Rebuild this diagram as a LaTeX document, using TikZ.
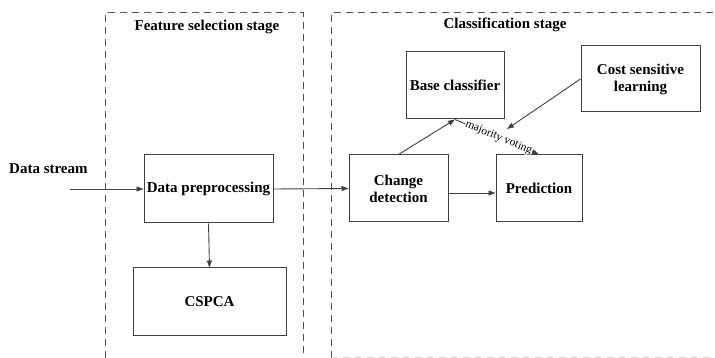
\documentclass[tikz,border=0pt]{standalone}
\usepackage{fontspec}
\setmainfont{Liberation Serif}
\usetikzlibrary{arrows.meta}
\definecolor{linec}{HTML}{404040}
\definecolor{dashc}{HTML}{505050}
\tikzset{
  box/.style={draw=linec, line width=1pt, fill=white, inner sep=0pt, align=center, font=\fontsize{15}{17}\selectfont\bfseries},
  conn/.style={draw=linec, line width=0.9pt, -{Triangle[length=7pt,width=5pt]}},
  stage/.style={draw=dashc, line width=1pt, dash pattern=on 7pt off 5pt},
  lbl/.style={font=\fontsize{15}{17}\selectfont\bfseries, inner sep=0pt}
}
\begin{document}
\begin{tikzpicture}[x=1pt,y=-1pt]
\useasboundingbox (0,0) rectangle (715,358);
% stage frames
\draw[stage] (105,358) -- (105,13) -- (303,13) -- (303,358);
\draw[stage] (331,358) -- (331,13) -- (716,13);
\draw[stage, draw=black!20] (331,357) -- (716,357);
\node[lbl] (t1) at (207,27) {Feature selection stage};
\node[lbl] (t2) at (505,25) {Classification stage};
% boxes
\node[box, minimum width=129pt, minimum height=68pt] (dp) at (208.5,189) {Data preprocessing};
\node[box, minimum width=153pt, minimum height=67pt] (cs) at (209.5,301.5) {CSPCA};
\node[box, minimum width=99pt, minimum height=67pt] (cd) at (398.5,188.5) {Change\\detection};
\node[box, minimum width=86pt, minimum height=67pt] (pr) at (539,188.5) {Prediction};
\node[box, minimum width=98pt, minimum height=67pt] (bc) at (455,85.5) {Base classifier};
\node[box, minimum width=119pt, minimum height=66pt] (cl) at (640.5,79) {Cost sensitive\\learning};
\node[lbl, anchor=west] (ds) at (9,169) {Data stream};
\coordinate (dsin) at (70,189);
\coordinate (clend) at (507,129);
% connectors
\draw[conn] (dsin) -- (dp.west);
\draw[conn] (dp.south) -- (cs.north);
\draw[conn] (dp.east) -- (cd.west);
\draw[conn] ([yshift=-4.5pt]cd.east) -- ([yshift=-4.5pt]pr.west);
\draw[conn] (cd.north) -- (bc.south);
\draw[conn] (cl.west) -- (clend);
\draw[conn] (bc.south) -- node[sloped, pos=0.52, fill=white, inner sep=0.3pt, font=\fontsize{11.5}{13}\selectfont] {majority voting} (pr.north);
\end{tikzpicture}
\end{document}
